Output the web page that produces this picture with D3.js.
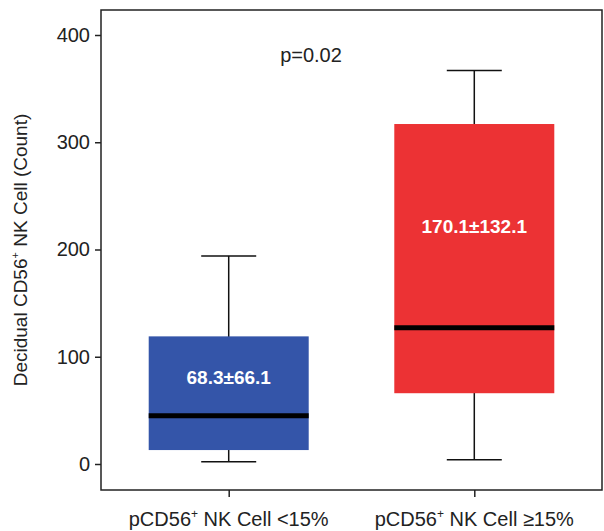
<!DOCTYPE html>
<html>
<head>
<meta charset="utf-8">
<script src="https://cdn.jsdelivr.net/npm/d3@7"></script>
<style>
  body { margin: 0; background: #fff; }
  text { font-family: "Liberation Sans", Arial, sans-serif; }
</style>
</head>
<body>
<svg id="chart" width="604" height="531"></svg>
<script>
// values
var groups = ["lt15", "ge15"];
var groupLabels = ["NK Cell <15%", "NK Cell \u226515%"];
var whiskerLow = [2, 4];
var q1 = [13, 66];
var median = [45, 127];
var q3 = [119, 317];
var whiskerHigh = [194, 367];
var meanSd = ["68.3\u00b166.1", "170.1\u00b1132.1"];
var colors = ["#3455a9", "#ec3234"];
var yTicks = [0, 100, 200, 300, 400];

var plotLeft = 101, plotRight = 602, plotTop = 10, plotBottom = 490;
var boxW = 160, capW = 55;

var svg = d3.select("#chart");

var y = d3.scaleLinear().domain([0, 400]).range([464, 35]);
var x = d3.scalePoint().domain(groups).range([plotLeft, plotRight]).padding(0.52);

// frame
svg.append("rect")
  .attr("x", plotLeft).attr("y", plotTop)
  .attr("width", plotRight - plotLeft).attr("height", plotBottom - plotTop)
  .attr("fill", "none").attr("stroke", "#222").attr("stroke-width", 1.5);

// y axis
var yAxis = svg.append("g").attr("transform", "translate(" + plotLeft + ",0)")
  .call(d3.axisLeft(y).tickValues(yTicks).tickSize(6).tickPadding(5));
yAxis.select(".domain").remove();
yAxis.selectAll("line").attr("stroke", "#222").attr("stroke-width", 1.5);
yAxis.selectAll("text").attr("font-size", 20).attr("fill", "#222")
  .style("font-family", "'Liberation Sans', Arial, sans-serif");

// x axis
var xAxis = svg.append("g").attr("transform", "translate(0," + plotBottom + ")")
  .call(d3.axisBottom(x).tickSize(7).tickFormat(""));
xAxis.select(".domain").remove();
xAxis.selectAll("line").attr("stroke", "#222").attr("stroke-width", 1.5);

groups.forEach(function (g, i) {
  var t = svg.append("text")
    .attr("x", x(g)).attr("y", 526)
    .attr("text-anchor", "middle").attr("font-size", 20).attr("fill", "#222");
  t.append("tspan").text("pCD56");
  t.append("tspan").text("+").attr("font-size", 12).attr("dy", -8);
  t.append("tspan").text(" " + groupLabels[i]).attr("dy", 8);
});

// y label
var yl = svg.append("text")
  .attr("transform", "translate(27,250) rotate(-90)")
  .attr("text-anchor", "middle").attr("font-size", 19).attr("fill", "#222");
yl.append("tspan").text("Decidual CD56");
yl.append("tspan").text("+").attr("font-size", 11).attr("dy", -8);
yl.append("tspan").text(" NK Cell (Count)").attr("dy", 8);

// whiskers
var box = svg.append("g").selectAll("g").data(groups).join("g");

box.append("line")
  .attr("x1", function (d) { return x(d); }).attr("x2", function (d) { return x(d); })
  .attr("y1", function (d, i) { return y(whiskerLow[i]); })
  .attr("y2", function (d, i) { return y(whiskerHigh[i]); })
  .attr("stroke", "#111").attr("stroke-width", 1.5);

[whiskerLow, whiskerHigh].forEach(function (arr) {
  box.append("line")
    .attr("x1", function (d) { return x(d) - capW / 2; })
    .attr("x2", function (d) { return x(d) + capW / 2; })
    .attr("y1", function (d, i) { return y(arr[i]); })
    .attr("y2", function (d, i) { return y(arr[i]); })
    .attr("stroke", "#111").attr("stroke-width", 1.5);
});

box.append("rect")
  .attr("x", function (d) { return x(d) - boxW / 2; })
  .attr("width", boxW)
  .attr("y", function (d, i) { return y(q3[i]); })
  .attr("height", function (d, i) { return y(q1[i]) - y(q3[i]); })
  .attr("fill", function (d, i) { return colors[i]; });

box.append("line")
  .attr("x1", function (d) { return x(d) - boxW / 2; })
  .attr("x2", function (d) { return x(d) + boxW / 2; })
  .attr("y1", function (d, i) { return y(median[i]); })
  .attr("y2", function (d, i) { return y(median[i]); })
  .attr("stroke", "#000").attr("stroke-width", 5);

box.append("text")
  .attr("x", function (d) { return x(d); })
  .attr("y", function (d, i) { return i === 0 ? 384 : 233; })
  .attr("text-anchor", "middle").attr("font-size", 19).attr("font-weight", "bold")
  .attr("fill", "#fff")
  .text(function (d, i) { return meanSd[i]; });

svg.append("text")
  .attr("x", 311).attr("y", 62)
  .attr("text-anchor", "middle").attr("font-size", 20).attr("fill", "#222")
  .text("p=0.02");
</script>
</body>
</html>
